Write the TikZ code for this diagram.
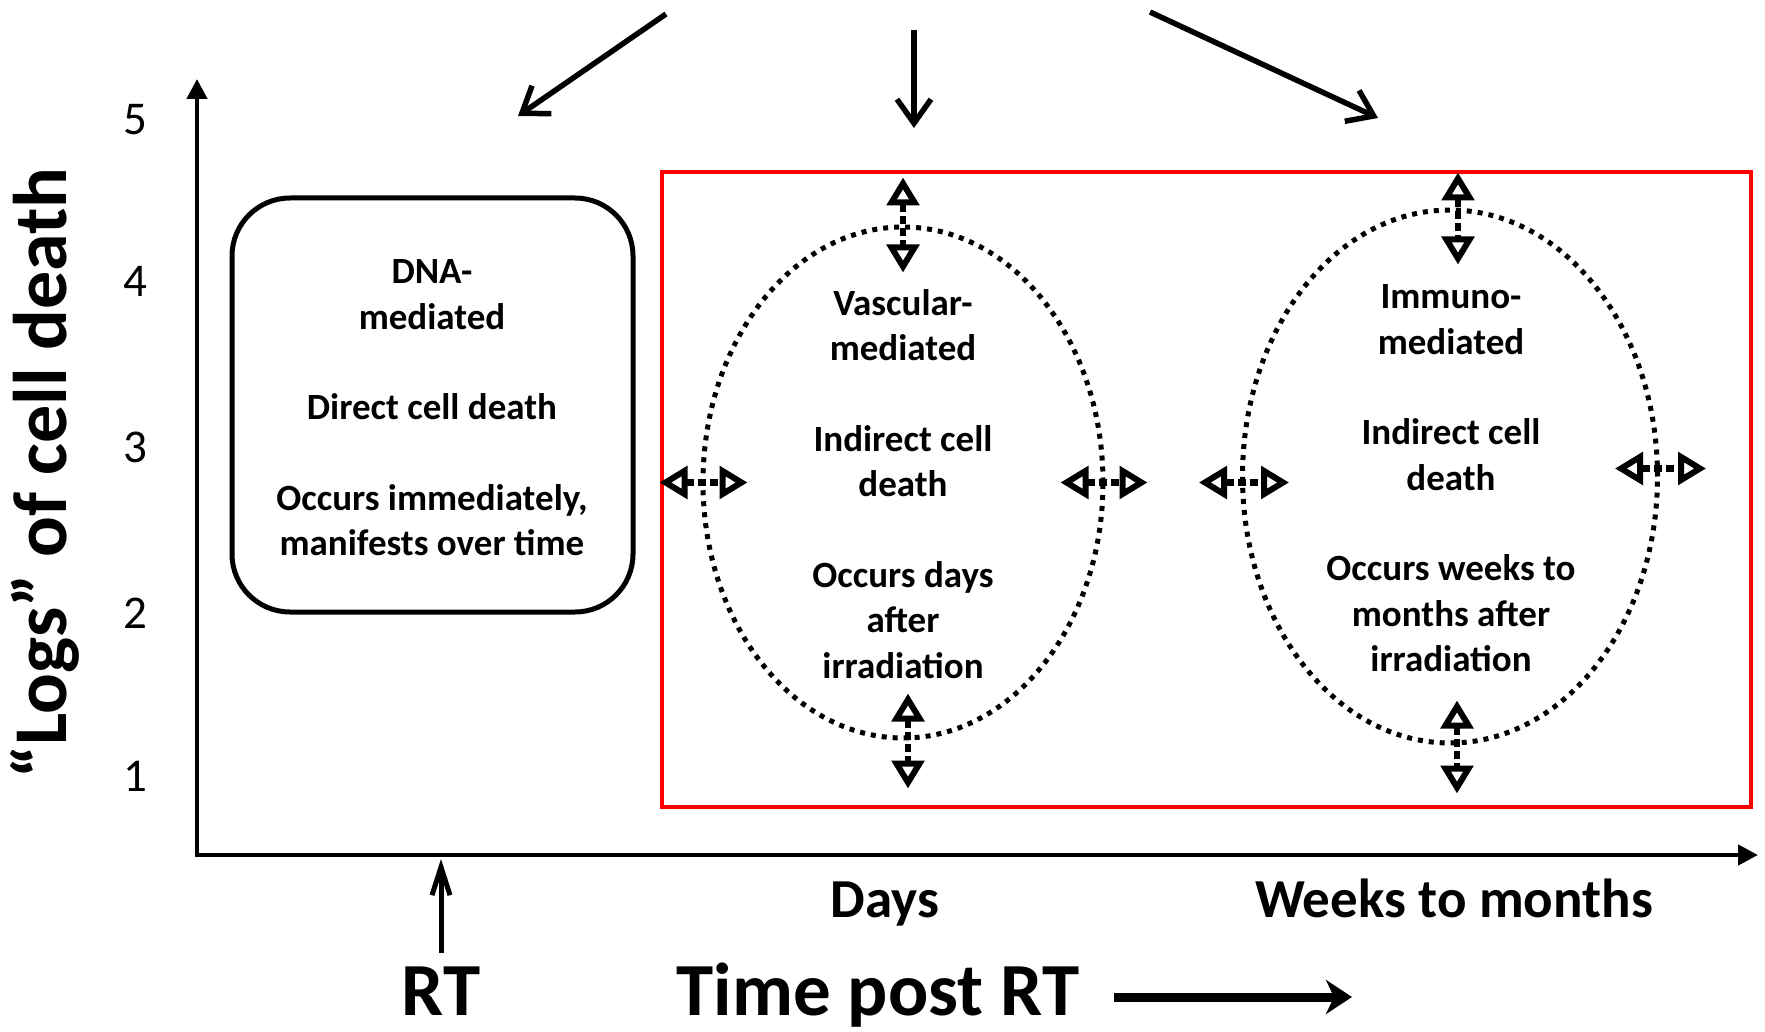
\documentclass[tikz,border=0pt]{standalone}
\usepackage{fontspec}
\setmainfont{Carlito}
\usetikzlibrary{arrows.meta,shapes.geometric}
\begin{document}
\begin{tikzpicture}[x=1pt,y=-1pt,
  body/.style={align=center,inner sep=0pt,font=\fontsize{37}{45.5}\selectfont\bfseries},
  tick/.style={inner sep=0pt,font=\fontsize{47}{50}\selectfont},
  axislbl/.style={inner sep=0pt,anchor=base,font=\fontsize{55}{60}\selectfont\bfseries},
  biglbl/.style={inner sep=0pt,anchor=base,font=\fontsize{75}{80}\selectfont\bfseries},
  axis/.style={line width=4.5pt,{Triangle[length=20pt,width=20pt]}-{Triangle[length=20pt,width=20pt]}},
  toparrow/.style={line width=5.5pt,-{Straight Barb[length=24pt,width=34pt]}},
  darrtip/.tip={Triangle[open,length=28pt,width=32pt,line width=6pt,fill=white]},
  darr/.style={line width=6.5pt,dash pattern=on 8pt off 4pt,darrtip-darrtip},
  ell/.style={ellipse,draw,line width=5pt,dash pattern=on 5pt off 6pt,inner sep=0pt},
]
\useasboundingbox (0,0) rectangle (1765,1032);

% axes
\coordinate (ytop) at (197,79);
\coordinate (O) at (197,855);
\coordinate (xend) at (1758,855);
\draw[axis] (ytop) -- (O) -- (xend);

% tick labels
\node[tick] (t5) at (135,120) {5};
\node[tick] (t4) at (135,281) {4};
\node[tick] (t3) at (135,447) {3};
\node[tick] (t2) at (135,613) {2};
\node[tick] (t1) at (135,776) {1};

% y label
\node[inner sep=0pt,rotate=90,font=\fontsize{76}{80}\selectfont\bfseries] (ylab) at (45,473) {“Logs” of cell death};

% top arrows
\coordinate (s1) at (666,14);  \coordinate (e1end) at (518,116);
\coordinate (s2) at (914,30);  \coordinate (e2end) at (914,128);
\coordinate (s3) at (1150,12); \coordinate (e3end) at (1378,118);
\draw[toparrow] (s1) -- (e1end);
\draw[toparrow] (s2) -- (e2end);
\draw[toparrow] (s3) -- (e3end);

% DNA box
\node[draw,rounded corners=58pt,line width=5pt,minimum width=401pt,minimum height=414pt] (box) at (432.5,405) {};
\node[body] (boxtxt) at (432,408) {DNA-\\mediated\\[45pt]Direct cell death\\[45pt]Occurs immediately,\\manifests over time};

% red frame
\node[draw=red,line width=4pt,minimum width=1089pt,minimum height=635pt,inner sep=0pt] (red) at (1206,489.5) {};

% ellipses
\node[ell,minimum width=400pt,minimum height=511pt] (ea) at (903,482.5) {};
\node[ell,minimum width=415pt,minimum height=533pt] (eb) at (1450,476.5) {};

\node[body] (eatxt) at (903,484) {Vascular-\\mediated\\[45pt]Indirect cell\\death\\[45pt]Occurs days\\after\\irradiation};
\node[body] (ebtxt) at (1451,478.5) {Immuno-\\mediated\\[45pt]Indirect cell\\death\\[45pt]Occurs weeks to\\months after\\irradiation};

% dashed double arrows
\draw[darr] ([yshift=47pt]ea.north) -- ([yshift=-48pt]ea.north);
\draw[darr] ([xshift=5pt,yshift=47pt]ea.south) -- ([xshift=5pt,yshift=-48pt]ea.south);
\draw[darr] ([xshift=-41pt]ea.west) -- ([xshift=47pt]ea.west);
\draw[darr] ([xshift=-45pt]ea.east) -- ([xshift=42pt]ea.east);
\draw[darr] ([xshift=8pt,yshift=35pt]eb.north) -- ([xshift=8pt,yshift=-57pt]eb.north);
\draw[darr] ([xshift=7pt,yshift=45pt]eb.south) -- ([xshift=7pt,yshift=-48pt]eb.south);
\draw[darr] ([xshift=-41pt,yshift=-6pt]eb.west) -- ([xshift=49pt,yshift=-6pt]eb.west);
\draw[darr] ([xshift=-45pt,yshift=8pt]eb.east) -- ([xshift=46pt,yshift=8pt]eb.east);

% bottom labels
\node[axislbl] (days) at (885,917) {Days};
\node[axislbl] (weeks) at (1454,917) {Weeks to months};
\node[biglbl] (rt) at (441,1015) {RT};
\node[biglbl] (tpr) at (878,1015) {Time post RT};

\coordinate (rtb) at (441,953);
\coordinate (rtx) at (441,859);
\draw[line width=5pt,-{Straight Barb[length=28pt,width=18pt]}] (rtb) -- (rtx);

\coordinate (tps) at (1114,997);
\coordinate (tpe) at (1352,997);
\draw[line width=9pt,-{Stealth[length=26pt,width=34pt,inset=8pt]}] (tps) -- (tpe);
\end{tikzpicture}
\end{document}
